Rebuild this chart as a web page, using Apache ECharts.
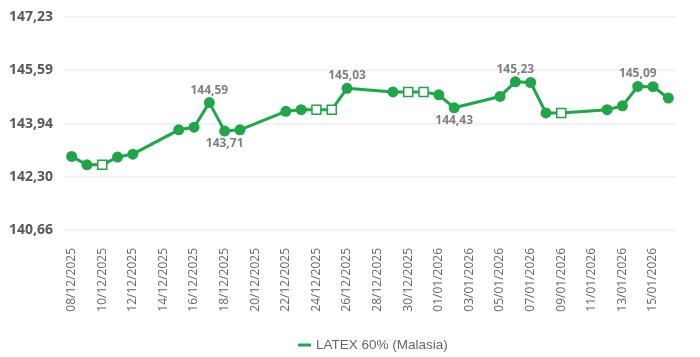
<!DOCTYPE html>
<html>
<head>
<meta charset="utf-8">
<script src="https://cdn.jsdelivr.net/npm/echarts@6/dist/echarts.min.js"></script>
<style>html,body{margin:0;padding:0;background:#fff}#c{width:700px;height:357px}</style>
</head>
<body>
<div id="c"></div>
<script>
const dates = ['08/12/2025','09/12/2025','10/12/2025','11/12/2025','12/12/2025','13/12/2025','14/12/2025','15/12/2025','16/12/2025','17/12/2025','18/12/2025','19/12/2025','20/12/2025','21/12/2025','22/12/2025','23/12/2025','24/12/2025','25/12/2025','26/12/2025','27/12/2025','28/12/2025','29/12/2025','30/12/2025','31/12/2025','01/01/2026','02/01/2026','03/01/2026','04/01/2026','05/01/2026','06/01/2026','07/01/2026','08/01/2026','09/01/2026','10/01/2026','11/01/2026','12/01/2026','13/01/2026','14/01/2026','15/01/2026','16/01/2026'];
const values = [142.93,142.67,142.67,142.91,143.00,null,null,143.75,143.83,144.59,143.71,143.75,null,null,144.32,144.37,144.37,144.37,145.03,null,null,144.92,144.92,144.92,144.83,144.43,null,null,144.78,145.23,145.21,144.27,144.27,null,null,144.37,144.49,145.09,145.08,144.73];
const hollowDates = ['10/12/2025','24/12/2025','25/12/2025','30/12/2025','31/12/2025','09/01/2026'];
const labelTop = ['17/12/2025','26/12/2025','06/01/2026','14/01/2026'];
const labelBottom = ['18/12/2025','02/01/2026'];
const yTicks = [140.66, 142.30, 143.94, 145.59, 147.23];
const seriesName = 'LATEX 60% (Malasia)';

const GREEN = '#21A44A';
const fmt = v => v.toFixed(2).replace('.', ',');

const data = values.map((v, i) => {
  const d = dates[i];
  const item = { value: v };
  if (hollowDates.includes(d)) {
    item.symbol = 'rect';
    item.symbolSize = 9;
    item.itemStyle = { color: '#fff', borderColor: GREEN, borderWidth: 1.5 };
  }
  if (labelTop.includes(d) || labelBottom.includes(d)) {
    item.label = { show: true, position: labelTop.includes(d) ? 'top' : 'bottom', distance: 1 };
  }
  return item;
});

const chart = echarts.init(document.getElementById('c'), null, { renderer: 'canvas' });
chart.setOption({
  animation: false,
  backgroundColor: '#fff',
  grid: { left: 64, right: 24, top: 17, bottom: 127, containLabel: false },
  legend: {
    top: 333, left: 293,
    data: [{ name: seriesName, icon: 'rect' }],
    itemWidth: 13, itemHeight: 3, itemGap: 10,
    textStyle: { fontFamily: 'Liberation Sans', fontSize: 13.5, color: '#666666', padding: [0, 0, 0, 0] }
  },
  xAxis: {
    type: 'category', data: dates, boundaryGap: true,
    axisLine: { show: false }, axisTick: { show: false },
    axisLabel: { interval: 1, rotate: 90, margin: 18, fontFamily: 'Open Sans', fontSize: 12, color: '#666666' }
  },
  yAxis: {
    type: 'value', min: yTicks[0], max: yTicks[yTicks.length - 1],
    axisLine: { show: false },
    axisTick: { show: false, customValues: yTicks },
    axisLabel: { customValues: yTicks, formatter: v => fmt(v), margin: 11, fontFamily: 'Open Sans', fontWeight: 'bold', fontSize: 14, color: '#595959' },
    splitLine: { show: true, lineStyle: { color: '#efefef', width: 1.5 } }
  },
  series: [{
    name: seriesName, type: 'line', data: data, connectNulls: true,
    symbol: 'circle', symbolSize: 11, showAllSymbol: true,
    lineStyle: { color: GREEN, width: 3 },
    itemStyle: { color: GREEN },
    label: { show: false, formatter: p => fmt(p.value), fontFamily: 'Open Sans', fontWeight: 'bold', fontSize: 12, color: '#808080' }
  }]
});
</script>
</body>
</html>
